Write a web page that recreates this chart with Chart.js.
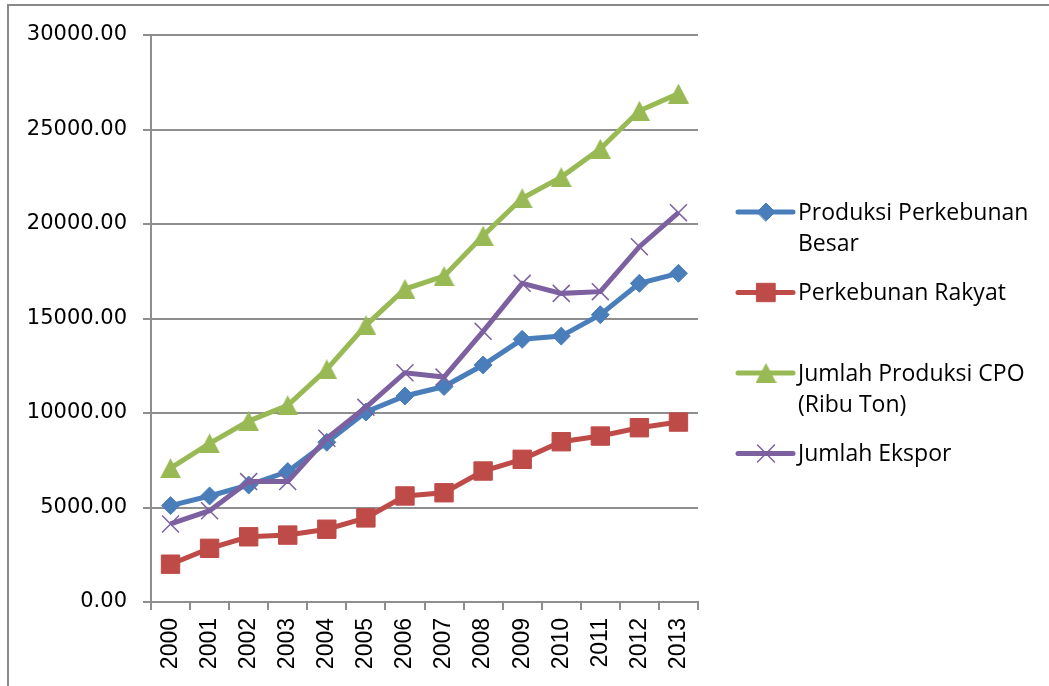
<!DOCTYPE html>
<html>
<head>
<meta charset="utf-8">
<script src="https://cdn.jsdelivr.net/npm/chart.js@4.4.1/dist/chart.umd.min.js"></script>
<style>
  html, body { margin: 0; padding: 0; background: #ffffff; }
  #wrap { width: 1049px; height: 686px; position: relative; }
</style>
</head>
<body>
<div id="wrap"><canvas id="c" width="1049" height="686"></canvas></div>
<script>
// Palm oil production and export, 2000-2013 (ribu ton)
const years = ['2000', '2001', '2002', '2003', '2004', '2005', '2006',
               '2007', '2008', '2009', '2010', '2011', '2012', '2013'];

const produksiPerkebunanBesar = [5100, 5610, 6190, 6900, 8450, 10050, 10900,
                                 11400, 12540, 13900, 14070, 15200, 16860, 17390];
const perkebunanRakyat = [2000, 2840, 3450, 3540, 3850, 4450, 5610,
                          5780, 6930, 7550, 8480, 8780, 9220, 9520];
const jumlahProduksiCPO = [7080, 8390, 9570, 10410, 12310, 14640, 16560,
                           17240, 19380, 21360, 22480, 23980, 25990, 26900];
const jumlahEkspor = [4130, 4830, 6370, 6370, 8660, 10300, 12130,
                      11900, 14320, 16860, 16330, 16420, 18800, 20600];

const seriesNames = [
  ['Produksi Perkebunan', 'Besar'],
  ['Perkebunan Rakyat'],
  ['Jumlah Produksi CPO', '(Ribu Ton)'],
  ['Jumlah Ekspor']
];

const yTicks = [0, 5000, 10000, 15000, 20000, 25000, 30000];

// Triangle marker centred on its bounding box
function makeTriangle(w, h, fill) {
  const cv = document.createElement('canvas');
  cv.width = w; cv.height = h;
  const g = cv.getContext('2d');
  g.fillStyle = fill;
  g.beginPath();
  g.moveTo(w / 2, 0);
  g.lineTo(w, h);
  g.lineTo(0, h);
  g.closePath();
  g.fill();
  return cv;
}
const triangle = makeTriangle(21, 20, '#98b954');

const gridColor = '#8e8e8e';

const datasets = [
  {
    label: seriesNames[0], data: produksiPerkebunanBesar,
    borderColor: '#4a7ebb', backgroundColor: '#4a7ebb',
    pointStyle: 'rectRot', pointRadius: 9, pointBorderWidth: 1,
    pointBackgroundColor: '#4a7ebb', pointBorderColor: '#4a7ebb', order: 4
  },
  {
    label: seriesNames[1], data: perkebunanRakyat,
    borderColor: '#be4b48', backgroundColor: '#be4b48',
    pointStyle: 'rect', pointRadius: 13, pointBorderWidth: 1,
    pointBackgroundColor: '#be4b48', pointBorderColor: '#be4b48', order: 3
  },
  {
    label: seriesNames[2], data: jumlahProduksiCPO,
    borderColor: '#98b954', backgroundColor: '#98b954',
    pointStyle: triangle, pointRadius: 10, order: 2
  },
  {
    label: seriesNames[3], data: jumlahEkspor,
    borderColor: '#7d60a0', backgroundColor: '#7d60a0',
    pointStyle: 'crossRot', pointRadius: 12, pointBorderWidth: 1.5,
    pointBorderColor: '#7d60a0', order: 1
  }
];
datasets.forEach(d => {
  d.borderWidth = 5;
  d.tension = 0;
  d.fill = false;
  d.pointHoverRadius = d.pointRadius;
});

// Outer frame and the legend on the right
const frameAndLegend = {
  id: 'frameAndLegend',
  afterDraw(chart) {
    const ctx = chart.ctx;
    ctx.save();
    ctx.strokeStyle = '#888888';
    ctx.lineWidth = 2;
    ctx.strokeRect(8, 5, 1100, 760);

    const x0 = 738, x1 = 793, mx = 766, tx = 798;
    const firstLine = 212, itemStep = 80.5, lineH = 31;
    ctx.font = '23px "Open Sans"';
    ctx.textBaseline = 'middle';
    ctx.textAlign = 'left';
    chart.data.datasets.forEach((ds, i) => {
      const y = firstLine + i * itemStep;
      ctx.strokeStyle = ds.borderColor;
      ctx.lineWidth = 5;
      ctx.lineCap = 'round';
      ctx.beginPath();
      ctx.moveTo(x0, y);
      ctx.lineTo(x1, y);
      ctx.stroke();
      ctx.fillStyle = ds.pointBackgroundColor || ds.borderColor;
      ctx.strokeStyle = ds.pointBorderColor || ds.borderColor;
      ctx.lineWidth = ds.pointBorderWidth || 1;
      Chart.helpers.drawPoint(ctx, {
        pointStyle: ds.pointStyle, radius: ds.pointRadius,
        borderWidth: ds.pointBorderWidth || 1, rotation: 0
      }, mx, y);
      ctx.fillStyle = '#000000';
      const lines = Array.isArray(ds.label) ? ds.label : [ds.label];
      lines.forEach((t, k) => ctx.fillText(t, tx, y + k * lineH + 1));
    });
    ctx.restore();
  }
};

new Chart(document.getElementById('c'), {
  type: 'line',
  data: { labels: years, datasets: datasets },
  plugins: [frameAndLegend],
  options: {
    responsive: false,
    animation: false,
    devicePixelRatio: 1,
    layout: { padding: { left: 0, top: 35, right: 351, bottom: 0 } },
    plugins: { legend: { display: false }, tooltip: { enabled: false } },
    scales: {
      x: {
        type: 'category',
        offset: true,
        grid: {
          offset: true, drawOnChartArea: false, drawTicks: true,
          tickLength: 8, color: gridColor, lineWidth: 2
        },
        border: { color: gridColor, width: 2 },
        ticks: {
          minRotation: 90, maxRotation: 90, autoSkip: false, padding: 8,
          color: '#000000', font: { family: '"Liberation Sans"', size: 23 }
        },
        afterFit(s) { s.height = 84; }
      },
      y: {
        min: 0, max: 30000,
        afterBuildTicks(s) { s.ticks = yTicks.map(v => ({ value: v })); },
        grid: { color: gridColor, lineWidth: 2, tickLength: 8 },
        border: { color: gridColor, width: 2 },
        ticks: {
          padding: 16, color: '#000000',
          font: { family: '"DejaVu Sans"', size: 21 },
          callback: v => Number(v).toFixed(2)
        },
        afterFit(s) { s.width = 151; }
      }
    }
  }
});
</script>
</body>
</html>
